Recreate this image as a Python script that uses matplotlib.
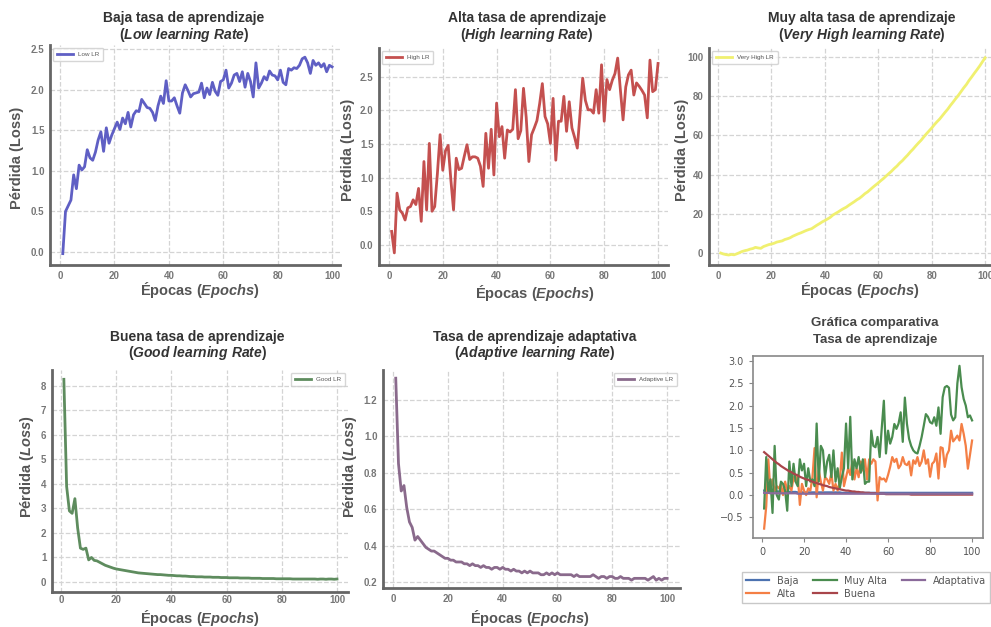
import matplotlib
matplotlib.use("Agg")
import matplotlib.pyplot as plt
import numpy as np

plt.rcParams['font.family'] = ['Liberation Sans', 'DejaVu Sans']
plt.rcParams['mathtext.fontset'] = 'custom'
plt.rcParams['mathtext.it'] = 'Liberation Sans:italic:bold'
plt.rcParams['mathtext.rm'] = 'Liberation Sans:bold'

W, H = 991, 627

epochs = np.arange(1, 101)

# --- top row / bottom row single-curve panels ---
low_lr = [-0.02, 0.50, 0.57, 0.64, 0.95, 0.78, 1.07, 1.01, 1.05, 1.26,
          1.16, 1.13, 1.23, 1.38, 1.48, 1.24, 1.53, 1.34, 1.44, 1.52,
          1.60, 1.51, 1.65, 1.58, 1.72, 1.54, 1.69, 1.74, 1.73, 1.88,
          1.83, 1.78, 1.77, 1.72, 1.62, 1.80, 1.92, 1.83, 2.11, 1.86,
          1.86, 1.90, 1.80, 1.71, 1.96, 2.06, 1.99, 1.91, 1.95, 1.96,
          1.97, 2.08, 1.90, 2.02, 1.94, 2.09, 1.98, 1.93, 2.10, 2.12,
          2.24, 2.02, 2.08, 2.18, 2.20, 2.10, 2.22, 2.03, 2.20, 2.10,
          1.91, 2.33, 2.02, 2.08, 2.16, 2.12, 2.23, 2.18, 2.17, 2.12,
          2.24, 2.09, 2.06, 2.26, 2.24, 2.27, 2.26, 2.30, 2.38, 2.40,
          2.33, 2.20, 2.36, 2.30, 2.33, 2.28, 2.32, 2.22, 2.30, 2.28]

high_lr = [0.20, -0.12, 0.77, 0.52, 0.47, 0.37, 0.55, 0.57, 0.67, 0.60,
           0.84, 0.35, 1.24, 0.52, 1.51, 0.50, 0.57, 1.06, 1.64, 1.11,
           1.40, 1.48, 0.97, 0.52, 1.29, 1.12, 1.14, 1.32, 1.49, 1.27,
           1.31, 1.31, 1.29, 1.17, 0.87, 1.66, 1.14, 1.72, 1.04, 2.11,
           1.61, 1.76, 1.29, 1.71, 1.68, 1.72, 2.31, 1.58, 1.70, 2.33,
           1.90, 1.24, 1.64, 1.74, 1.85, 2.10, 2.40, 1.91, 1.80, 1.51,
           2.18, 1.26, 1.84, 1.84, 2.21, 1.69, 2.13, 1.74, 1.60, 1.44,
           1.95, 2.48, 2.15, 2.01, 2.01, 1.96, 2.31, 1.96, 2.68, 1.84,
           2.46, 2.31, 2.45, 2.55, 2.78, 2.31, 1.86, 2.35, 2.53, 2.60,
           2.23, 2.41, 2.36, 2.30, 2.23, 1.89, 2.75, 2.28, 2.31, 2.70]

very_high_lr = [0.0, -0.5, -0.8, -1.0, -0.7, -0.9, -0.4, 0.2, 0.8, 1.2,
                1.5, 2.0, 2.3, 2.9, 2.6, 2.4, 3.3, 3.8, 4.3, 4.6,
                5.0, 5.6, 5.9, 6.2, 6.9, 7.3, 7.8, 8.6, 9.2, 9.8,
                10.3, 10.9, 11.5, 12.0, 12.4, 13.3, 14.2, 15.0, 15.9, 16.6,
                17.4, 18.2, 19.4, 20.2, 21.0, 21.9, 22.7, 23.4, 24.4, 25.3,
                26.2, 27.2, 28.0, 29.1, 30.3, 31.2, 32.4, 33.6, 34.7, 35.8,
                37.0, 38.1, 39.4, 40.6, 41.8, 43.2, 44.4, 45.9, 47.1, 48.6,
                50.0, 51.6, 53.0, 54.6, 56.1, 57.5, 59.2, 60.8, 62.3, 63.8,
                65.5, 67.0, 68.4, 70.1, 71.8, 73.4, 75.3, 77.0, 78.8, 80.5,
                82.4, 84.3, 86.0, 88.1, 89.9, 91.8, 93.6, 95.5, 97.6, 99.6]

good_lr = [8.27, 3.90, 2.90, 2.80, 3.40, 2.20, 1.38, 1.33, 1.38, 0.90,
           1.00, 0.88, 0.86, 0.80, 0.74, 0.68, 0.64, 0.60, 0.56, 0.53,
           0.51, 0.49, 0.47, 0.45, 0.43, 0.41, 0.39, 0.37, 0.36, 0.35,
           0.34, 0.33, 0.32, 0.31, 0.30, 0.30, 0.29, 0.28, 0.27, 0.27,
           0.26, 0.25, 0.25, 0.24, 0.24, 0.23, 0.22, 0.22, 0.21, 0.21,
           0.21, 0.20, 0.20, 0.20, 0.19, 0.19, 0.19, 0.18, 0.18, 0.18,
           0.17, 0.17, 0.17, 0.17, 0.16, 0.16, 0.16, 0.16, 0.15, 0.15,
           0.15, 0.15, 0.14, 0.14, 0.14, 0.14, 0.14, 0.13, 0.13, 0.13,
           0.13, 0.13, 0.13, 0.12, 0.12, 0.12, 0.12, 0.12, 0.12, 0.12,
           0.12, 0.12, 0.11, 0.12, 0.12, 0.11, 0.12, 0.12, 0.11, 0.12]

adaptive_lr = [1.32, 0.85, 0.70, 0.73, 0.61, 0.53, 0.50, 0.43, 0.45, 0.43,
               0.41, 0.39, 0.38, 0.37, 0.37, 0.36, 0.35, 0.34, 0.33, 0.33,
               0.32, 0.32, 0.31, 0.31, 0.31, 0.30, 0.30, 0.29, 0.30, 0.29,
               0.29, 0.28, 0.29, 0.28, 0.28, 0.27, 0.28, 0.28, 0.27, 0.28,
               0.27, 0.27, 0.26, 0.27, 0.26, 0.26, 0.25, 0.26, 0.25, 0.26,
               0.25, 0.25, 0.25, 0.24, 0.24, 0.25, 0.24, 0.25, 0.24, 0.25,
               0.24, 0.24, 0.24, 0.24, 0.24, 0.23, 0.24, 0.23, 0.23, 0.23,
               0.23, 0.23, 0.24, 0.23, 0.22, 0.23, 0.23, 0.22, 0.23, 0.23,
               0.22, 0.22, 0.23, 0.22, 0.22, 0.22, 0.21, 0.22, 0.22, 0.22,
               0.22, 0.22, 0.21, 0.22, 0.23, 0.21, 0.22, 0.21, 0.22, 0.22]

# --- comparative panel ---
cmp_baja = [0.10, 0.10, 0.09, 0.09, 0.09, 0.08, 0.08, 0.08, 0.08, 0.07,
            0.07, 0.07, 0.07, 0.07, 0.07, 0.07, 0.06, 0.06, 0.06, 0.06,
            0.06, 0.06, 0.06, 0.06, 0.06, 0.06, 0.06, 0.06, 0.06, 0.06,
            0.06, 0.06, 0.06, 0.06, 0.06, 0.06, 0.06, 0.05, 0.05, 0.05,
            0.05, 0.05, 0.05, 0.05, 0.05, 0.05, 0.05, 0.05, 0.05, 0.05,
            0.05, 0.05, 0.05, 0.05, 0.05, 0.05, 0.05, 0.05, 0.05, 0.05,
            0.05, 0.05, 0.05, 0.05, 0.05, 0.05, 0.05, 0.05, 0.05, 0.05,
            0.05, 0.05, 0.05, 0.05, 0.05, 0.05, 0.05, 0.05, 0.05, 0.05,
            0.05, 0.05, 0.05, 0.05, 0.05, 0.05, 0.05, 0.05, 0.05, 0.05,
            0.05, 0.05, 0.05, 0.05, 0.05, 0.05, 0.05, 0.05, 0.05, 0.05]

cmp_alta = [-0.75, -0.25, 0.80, 0.10, 0.35, 0.10, 0.20, 0.15, 0.25, 0.00,
            0.30, 0.10, 0.20, 0.10, 0.40, 0.30, 0.45, -0.22, 0.25, 0.10,
            0.00, 0.15, 0.10, 0.40, 1.05, -0.05, 0.55, 0.30, 0.10, 0.40,
            0.35, 0.25, 0.50, 0.10, 0.25, 0.10, 0.30, 0.95, 0.20, 0.40,
            0.60, 0.45, 0.75, 0.35, 0.60, 0.40, 0.75, 0.55, 0.80, 0.35,
            0.80, 0.70, 0.80, 0.75, -0.12, 0.40, 0.35, 0.37, 0.30, 0.45,
            0.63, 0.85, 0.74, 0.81, 0.60, 0.67, 0.85, 0.70, 0.67, 0.75,
            0.44, 0.78, 0.70, 0.85, 0.65, 0.75, 1.00, 0.70, 0.80, 0.41,
            0.70, 0.75, 0.93, 0.37, 1.07, 1.05, 0.63, 0.90, 1.00, 1.44,
            1.20, 1.26, 1.33, 1.22, 1.59, 1.37, 1.10, 0.59, 0.90, 1.22]

cmp_muy_alta = [-0.30, 0.85, 0.05, 0.35, -0.40, 1.10, 0.00, -0.10, 0.30, 0.25,
                0.10, -0.35, 0.75, 0.20, 0.70, 0.30, 0.20, 0.80, 0.55, 0.70,
                0.20, 0.60, 0.30, 0.35, 0.20, 1.60, 0.30, 1.10, 1.00, 0.40,
                0.75, 0.90, 0.40, 1.00, 0.30, 0.60, 0.15, 0.40, 0.60, 1.60,
                0.60, 1.75, 0.35, 0.80, 0.60, 0.85, 0.50, 0.80, 0.25, 0.30,
                0.30, 1.44, 1.10, 1.07, 1.30, 0.85, 1.50, 2.11, 0.93, 1.44,
                1.15, 1.30, 1.59, 1.48, 1.60, 1.85, 1.19, 2.18, 1.59, 1.26,
                1.10, 1.00, 0.95, 0.93, 1.10, 1.30, 1.55, 1.81, 1.75, 1.63,
                1.60, 1.74, 1.55, 1.96, 1.37, 2.19, 2.41, 2.44, 2.40, 1.80,
                1.67, 1.74, 2.50, 2.89, 2.41, 2.15, 2.00, 1.74, 1.78, 1.67]

cmp_buena = [0.96, 0.92, 0.88, 0.84, 0.80, 0.76, 0.72, 0.69, 0.65, 0.62,
             0.59, 0.56, 0.53, 0.51, 0.48, 0.46, 0.44, 0.41, 0.39, 0.37,
             0.35, 0.34, 0.32, 0.30, 0.28, 0.27, 0.25, 0.24, 0.22, 0.21,
             0.20, 0.18, 0.17, 0.16, 0.15, 0.14, 0.13, 0.12, 0.11, 0.10,
             0.10, 0.09, 0.08, 0.08, 0.07, 0.07, 0.06, 0.06, 0.05, 0.05,
             0.05, 0.04, 0.04, 0.04, 0.03, 0.03, 0.03, 0.03, 0.02, 0.02,
             0.02, 0.02, 0.02, 0.02, 0.02, 0.02, 0.02, 0.02, 0.02, 0.02,
             0.01, 0.01, 0.01, 0.01, 0.01, 0.01, 0.01, 0.01, 0.01, 0.01,
             0.01, 0.01, 0.01, 0.01, 0.01, 0.01, 0.01, 0.01, 0.01, 0.01,
             0.01, 0.01, 0.01, 0.01, 0.01, 0.01, 0.01, 0.01, 0.01, 0.01]

cmp_adaptativa = [0.05, 0.05, 0.05, 0.04, 0.04, 0.04, 0.04, 0.04, 0.04, 0.04,
                  0.04, 0.04, 0.04, 0.04, 0.04, 0.04, 0.03, 0.03, 0.03, 0.03,
                  0.03, 0.03, 0.03, 0.03, 0.03, 0.03, 0.03, 0.03, 0.03, 0.03,
                  0.03, 0.03, 0.03, 0.03, 0.03, 0.03, 0.03, 0.03, 0.03, 0.03,
                  0.03, 0.03, 0.03, 0.03, 0.03, 0.03, 0.03, 0.03, 0.03, 0.03,
                  0.03, 0.03, 0.03, 0.03, 0.03, 0.03, 0.03, 0.03, 0.03, 0.03,
                  0.03, 0.03, 0.03, 0.03, 0.03, 0.03, 0.03, 0.03, 0.03, 0.03,
                  0.03, 0.03, 0.03, 0.03, 0.03, 0.03, 0.03, 0.03, 0.03, 0.03,
                  0.03, 0.03, 0.03, 0.03, 0.03, 0.03, 0.03, 0.03, 0.03, 0.03,
                  0.03, 0.03, 0.03, 0.03, 0.03, 0.03, 0.03, 0.03, 0.03, 0.03]


def px_axes(fig, l, t, r, b):
    # pixel box (left, top, right, bottom) -> figure fraction axes
    return fig.add_axes([l / W, 1 - b / H, (r - l) / W, (b - t) / H])


def ftext(fig, x, y, s, **kw):
    fig.text(x / W, 1 - y / H, s, ha='center', va='center', **kw)


def style_panel(ax, xlim, ylim, yticks):
    ax.set_xlim(xlim)
    ax.set_ylim(ylim)
    ax.set_xticks([0, 20, 40, 60, 80, 100])
    ax.set_yticks(yticks)
    for s in ['top', 'right']:
        ax.spines[s].set_visible(False)
    for s in ['left', 'bottom']:
        ax.spines[s].set_color('#666666')
        ax.spines[s].set_linewidth(2)
    ax.grid(True, color='#d4d4d4', linestyle='--', linewidth=0.9)
    ax.set_axisbelow(True)
    ax.tick_params(length=0, pad=4, labelsize=7, labelcolor='#777777')
    for lbl in ax.get_xticklabels() + ax.get_yticklabels():
        lbl.set_fontweight('bold')


def panel_legend(ax, loc):
    leg = ax.legend(loc=loc, fontsize=4.5, handlelength=2.6, borderpad=0.6,
                    labelcolor='#555555', fancybox=True)
    leg.get_frame().set_edgecolor('#cccccc')


title_kw = dict(fontsize=10, fontweight='bold', color='#333333')
label_kw = dict(fontsize=10.5, fontweight='bold', color='#555555')

fig = plt.figure(figsize=(W / 100, H / 100), dpi=100)

# Panel 1: low LR
ax1 = px_axes(fig, 50, 45, 340, 265)
ax1.plot(epochs, low_lr, color='#5f5fc4', lw=2, label='Low LR')
style_panel(ax1, (-3.7, 102.9), (-0.16, 2.55), [0, 0.5, 1.0, 1.5, 2.0, 2.5])
panel_legend(ax1, 'upper left')
ftext(fig, 184, 18, 'Baja tasa de aprendizaje', **title_kw)
ftext(fig, 184, 35, r'($\mathit{Low\ learning\ Rate}$)', **title_kw)
ftext(fig, 17, 158, 'Pérdida (Loss)', rotation=90, **label_kw)
ftext(fig, 200, 290, r'Épocas ($\mathit{Epochs}$)', **label_kw)

# Panel 2: high LR
ax2 = px_axes(fig, 379, 48, 668, 265)
ax2.plot(epochs, high_lr, color='#c4504f', lw=2, label='High LR')
style_panel(ax2, (-3.7, 103.7), (-0.30, 2.93), [0, 0.5, 1.0, 1.5, 2.0, 2.5])
panel_legend(ax2, 'upper left')
ftext(fig, 527, 18, 'Alta tasa de aprendizaje', **title_kw)
ftext(fig, 527, 35, r'($\mathit{High\ learning\ Rate}$)', **title_kw)
ftext(fig, 348, 150, 'Pérdida (Loss)', rotation=90, **label_kw)
ftext(fig, 535, 293, r'Épocas ($\mathit{Epochs}$)', **label_kw)

# Panel 3: very high LR
ax3 = px_axes(fig, 709, 48, 991, 265)
ax3.plot(epochs, very_high_lr, color='#f0f070', lw=2, label='Very High LR')
style_panel(ax3, (-3.4, 102.2), (-6.1, 104.6), [0, 20, 40, 60, 80, 100])
panel_legend(ax3, 'upper left')
ftext(fig, 862, 18, 'Muy alta tasa de aprendizaje', **title_kw)
ftext(fig, 862, 35, r'($\mathit{Very\ High\ learning\ Rate}$)', **title_kw)
ftext(fig, 682, 150, 'Pérdida (Loss)', rotation=90, **label_kw)
ftext(fig, 860, 290, r'Épocas ($\mathit{Epochs}$)', **label_kw)

# Panel 4: good LR
ax4 = px_axes(fig, 52, 370, 348, 592)
ax4.plot(epochs, good_lr, color='#5e8c5e', lw=2, label='Good LR')
style_panel(ax4, (-3.3, 104.0), (-0.41, 8.65), list(range(0, 9)))
ax4.tick_params(axis='x', pad=2)
panel_legend(ax4, 'upper right')
ftext(fig, 197, 337, 'Buena tasa de aprendizaje', **title_kw)
ftext(fig, 197, 353, r'($\mathit{Good\ learning\ Rate}$)', **title_kw)
ftext(fig, 27, 467, r'Pérdida ($\mathit{Loss}$)', rotation=90, **label_kw)
ftext(fig, 200, 618, r'Épocas ($\mathit{Epochs}$)', **label_kw)

# Panel 5: adaptive LR
ax5 = px_axes(fig, 383, 370, 680, 588)
ax5.plot(epochs, adaptive_lr, color='#8a6a8c', lw=2, label='Adaptive LR')
style_panel(ax5, (-3.65, 104.7), (0.167, 1.365), [0.2, 0.4, 0.6, 0.8, 1.0, 1.2])
panel_legend(ax5, 'upper right')
ftext(fig, 535, 337, 'Tasa de aprendizaje adaptativa', **title_kw)
ftext(fig, 535, 353, r'($\mathit{Adaptive\ learning\ Rate}$)', **title_kw)
ftext(fig, 350, 467, r'Pérdida ($\mathit{Loss}$)', rotation=90, **label_kw)
ftext(fig, 530, 618, r'Épocas ($\mathit{Epochs}$)', **label_kw)

# Panel 6: comparative
ax6 = px_axes(fig, 753, 356, 983, 538)
ax6.plot(epochs, cmp_baja, color='#4c72b0', lw=1.6, label='Baja')
ax6.plot(epochs, cmp_alta, color='#f47f45', lw=1.6, label='Alta')
ax6.plot(epochs, cmp_muy_alta, color='#4a8c4f', lw=1.6, label='Muy Alta')
ax6.plot(epochs, cmp_buena, color='#a8454a', lw=1.6, label='Buena')
ax6.plot(epochs, cmp_adaptativa, color='#8a6a9a', lw=1.6, label='Adaptativa')
ax6.set_xlim(-4.3, 105.2)
ax6.set_ylim(-0.96, 3.11)
ax6.set_xticks([0, 20, 40, 60, 80, 100])
ax6.set_yticks([-0.5, 0.0, 0.5, 1.0, 1.5, 2.0, 2.5, 3.0])
for s in ax6.spines.values():
    s.set_color('#888888')
    s.set_linewidth(1.2)
ax6.tick_params(labelsize=7, labelcolor='#555555', color='#888888', length=3)
for lbl in ax6.get_xticklabels() + ax6.get_yticklabels():
    lbl.set_fontfamily('DejaVu Sans')
ftext(fig, 875, 323, 'Gráfica comparativa', fontsize=9.5, fontweight='bold', color='#444444')
ftext(fig, 875, 340, 'Tasa de aprendizaje', fontsize=9.5, fontweight='bold', color='#444444')
leg6 = ax6.legend(loc='upper center', bbox_to_anchor=(866 / W, 1 - 567 / H),
                  bbox_transform=fig.transFigure, ncol=3,
                  prop={'family': 'DejaVu Sans', 'size': 7},
                  labelcolor='#555555', handlelength=2.4, columnspacing=1.5,
                  borderpad=0.4, labelspacing=0.3, fancybox=False)
leg6.get_frame().set_edgecolor('#bbbbbb')

fig.savefig('out.png', dpi=100)
